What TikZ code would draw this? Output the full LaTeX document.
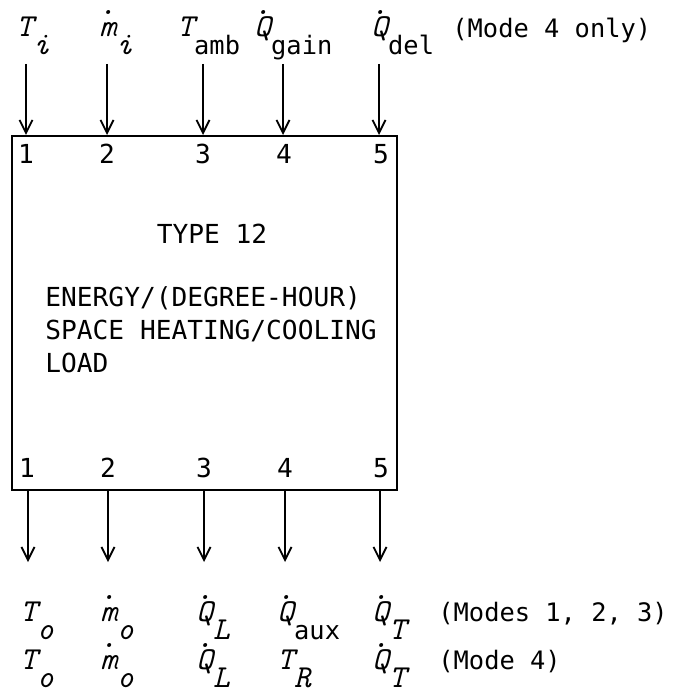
\documentclass[tikz,border=0pt]{standalone}
\usepackage{fontspec}
\usetikzlibrary{arrows.meta, positioning}
\newfontfamily\monofont{DejaVu Sans Mono}
\newcommand{\boxsize}{\monofont\fontsize{13.1}{16.5}\selectfont}
\newcommand{\notesize}{\monofont\fontsize{12.7}{15}\selectfont}
\newcommand{\var}[1]{{\ttfamily\itshape\fontsize{16}{16}\selectfont #1}}
\newcommand{\subtxt}[1]{{\monofont\fontsize{12.7}{15}\selectfont #1}}
\newcommand{\low}[1]{\raisebox{-9pt}{#1}}
\newcommand{\rate}[1]{\ooalign{#1\cr\hidewidth\raisebox{11pt}{\var{.}}\hidewidth\cr}}
\tikzset{
  loadbox/.style = {draw, line width=1pt, inner sep=0pt, minimum width=192.5pt, minimum height=177pt},
  lbl/.style     = {inner sep=0pt, anchor=base west},
  note/.style    = {lbl, font=\notesize},
  port/.style    = {inner sep=0pt, anchor=base, font=\boxsize},
  arr/.style     = {-{Straight Barb[length=6.5pt,width=6.5pt]}, line width=0.9pt},
}
\begin{document}
\begin{tikzpicture}[x=0.5pt, y=-0.5pt]
  \useasboundingbox (0,0) rectangle (677,700);

  \node[loadbox] (load) at (204.5,313) {};
  \node[port] (title) at (212,243) {TYPE 12};
  \node[lbl, font=\boxsize, align=left] (desc) at (45,372)
    {ENERGY/(DEGREE-HOUR)\\SPACE HEATING/COOLING\\LOAD};

  \node[port] (in1n) at (26,163) {1};
  \node[port] (in2n) at (107,163) {2};
  \node[port] (in3n) at (203,163) {3};
  \node[port] (in4n) at (284,163) {4};
  \node[port] (in5n) at (381,163) {5};
  \node[port] (out1n) at (27,477) {1};
  \node[port] (out2n) at (108,477) {2};
  \node[port] (out3n) at (204,477) {3};
  \node[port] (out4n) at (285,477) {4};
  \node[port] (out5n) at (381,477) {5};

  \node[lbl] (Ti) at (16,37) {\var{T}\low{\var{i}}};
  \node[lbl] (mi) at (99,37) {\rate{\var{m}}\low{\var{i}}};
  \node[lbl] (Tamb) at (177,37) {\var{T}\low{\subtxt{amb}}};
  \node[lbl] (Qgain) at (254,37) {\rate{\var{Q}}\low{\subtxt{gain}}};
  \node[lbl] (Qdel) at (371,37) {\rate{\var{Q}}\low{\subtxt{del}}};
  \node[note] (only4) at (452,38) {(Mode 4 only)};

  \coordinate (in1) at (26,64);
  \coordinate (in2) at (107,64);
  \coordinate (in3) at (203,64);
  \coordinate (in4) at (283,64);
  \coordinate (in5) at (379,64);
  \draw[arr] (in1) -- (in1 |- load.north);
  \draw[arr] (in2) -- (in2 |- load.north);
  \draw[arr] (in3) -- (in3 |- load.north);
  \draw[arr] (in4) -- (in4 |- load.north);
  \draw[arr] (in5) -- (in5 |- load.north);

  \coordinate (out1) at (28,562);
  \coordinate (out2) at (108,562);
  \coordinate (out3) at (204,562);
  \coordinate (out4) at (285,562);
  \coordinate (out5) at (380,562);
  \draw[arr] (out1 |- load.south) -- (out1);
  \draw[arr] (out2 |- load.south) -- (out2);
  \draw[arr] (out3 |- load.south) -- (out3);
  \draw[arr] (out4 |- load.south) -- (out4);
  \draw[arr] (out5 |- load.south) -- (out5);

  \node[lbl] (To) at (20,621) {\var{T}\low{\var{o}}};
  \node[lbl] (mo) at (100,621) {\rate{\var{m}}\low{\var{o}}};
  \node[lbl] (QL) at (196,621) {\rate{\var{Q}}\low{\var{L}}};
  \node[lbl] (Qaux) at (277,621) {\rate{\var{Q}}\low{\subtxt{aux}}};
  \node[lbl] (QT) at (372,621) {\rate{\var{Q}}\low{\var{T}}};
  \node[note] (modes123) at (438,621) {(Modes 1, 2, 3)};

  \node[lbl] (To4) at (20,669) {\var{T}\low{\var{o}}};
  \node[lbl] (mo4) at (100,669) {\rate{\var{m}}\low{\var{o}}};
  \node[lbl] (QL4) at (196,669) {\rate{\var{Q}}\low{\var{L}}};
  \node[lbl] (TR4) at (277,669) {\var{T}\low{\var{R}}};
  \node[lbl] (QT4) at (372,669) {\rate{\var{Q}}\low{\var{T}}};
  \node[note] (mode4) at (438,669) {(Mode 4)};
\end{tikzpicture}
\end{document}
